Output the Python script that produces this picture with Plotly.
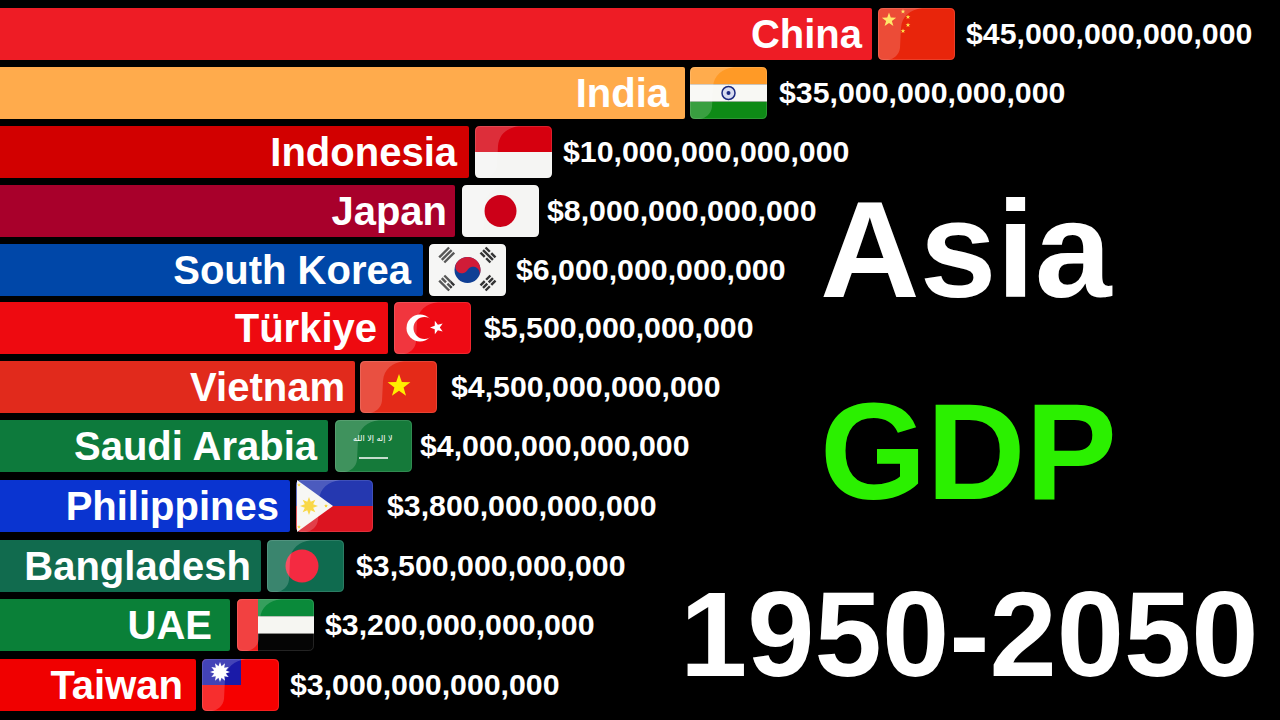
import numpy as np
import plotly.graph_objects as go

countries = ["China", "India", "Indonesia", "Japan", "South Korea", "Türkiye", "Vietnam",
             "Saudi Arabia", "Philippines", "Bangladesh", "UAE", "Taiwan"]
bar_lengths = [872, 685, 469, 455, 423, 388, 355, 328, 290, 261, 230, 196]
gdp_labels = ["$45,000,000,000,000", "$35,000,000,000,000", "$10,000,000,000,000",
              "$8,000,000,000,000", "$6,000,000,000,000", "$5,500,000,000,000",
              "$4,500,000,000,000", "$4,000,000,000,000", "$3,800,000,000,000",
              "$3,500,000,000,000", "$3,200,000,000,000", "$3,000,000,000,000"]
bar_colors = ["#EE1C25", "#FFAB4C", "#D20000", "#A8002B", "#0047A8", "#EE0A10",
              "#E12A1C", "#0D7A3C", "#0A34D0", "#116B4E", "#0A8038", "#F00000"]
bar_centers = [34, 93, 152, 211, 270, 328, 387, 446, 506, 566, 625, 685]
# gaps in the original differ a little from row to row
name_pads = [10, 16, 12, 8, 12, 11, 10, 11, 11, 10, 18, 13]
flag_gaps = [6, 5, 6, 7, 6, 6, 5, 7, 6, 6, 7, 6]
value_gaps = [94, 94, 94, 92, 93, 96, 96, 92, 97, 95, 95, 94]

FLAG_W = 77
FLAG_H = 52
shapes = []
annotations = []


def rrect(x0, y0, x1, y1, fill, corners="tl tr br bl", r=5):
    tl = r if "tl" in corners else 0
    tr = r if "tr" in corners else 0
    br = r if "br" in corners else 0
    bl = r if "bl" in corners else 0
    path = (f"M{x0 + tl},{y0} L{x1 - tr},{y0} Q{x1},{y0} {x1},{y0 + tr} "
            f"L{x1},{y1 - br} Q{x1},{y1} {x1 - br},{y1} "
            f"L{x0 + bl},{y1} Q{x0},{y1} {x0},{y1 - bl} "
            f"L{x0},{y0 + tl} Q{x0},{y0} {x0 + tl},{y0} Z")
    shapes.append(dict(type="path", path=path, fillcolor=fill, line_width=0))


def poly(pts, fill):
    path = "M" + " L".join(f"{px:.2f},{py:.2f}" for px, py in pts) + " Z"
    shapes.append(dict(type="path", path=path, fillcolor=fill, line_width=0))


def circle(cx, cy, r, fill, line=None, lw=0):
    shapes.append(dict(type="circle", x0=cx - r, x1=cx + r, y0=cy - r, y1=cy + r,
                       fillcolor=fill, line=dict(color=line, width=lw) if line else dict(width=0)))


def star(cx, cy, r, fill, n=5, inner=0.4, rot=-90):
    ang = np.radians(rot) + np.arange(2 * n) * np.pi / n
    rad = np.where(np.arange(2 * n) % 2 == 0, r, r * inner)
    poly(list(zip(cx + rad * np.cos(ang), cy + rad * np.sin(ang))), fill)


def seg(x0, y0, x1, y1, color, width):
    shapes.append(dict(type="line", x0=x0, y0=y0, x1=x1, y1=y1, line=dict(color=color, width=width)))


def stripes(x, y, cols):
    n = len(cols)
    for i, c in enumerate(cols):
        corners = "tl tr" if i == 0 else ("br bl" if i == n - 1 else "")
        rrect(x, y + FLAG_H * i / n, x + FLAG_W, y + FLAG_H * (i + 1) / n, c, corners)


def gloss(x, y):
    path = (f"M{x + 5},{y} L{x + 44},{y} C{x + 32},{y + 2} {x + 24},{y + 8} {x + 23},{y + 20} "
            f"L{x + 22},{y + 40} C{x + 21},{y + 47} {x + 16},{y + 51} {x + 10},{y + 52} "
            f"L{x + 5},{y + 52} Q{x},{y + 52} {x},{y + 47} L{x},{y + 5} Q{x},{y} {x + 5},{y} Z")
    shapes.append(dict(type="path", path=path, fillcolor="rgba(255,255,255,0.18)", line_width=0))


def taegeuk(cx, cy, r):
    tilt = np.radians(30)
    t = np.linspace(0, np.pi, 40)
    outer = [(r * np.cos(a + np.pi), r * np.sin(a + np.pi)) for a in t]
    s1 = [(r / 2 + r / 2 * np.cos(a), -r / 2 * np.sin(a)) for a in t]
    s2 = [(-r / 2 + r / 2 * np.cos(a), r / 2 * np.sin(a)) for a in t]
    pts = outer + s1 + s2
    circle(cx, cy, r, "#0F3F94")
    poly([(cx + px * np.cos(tilt) - py * np.sin(tilt), cy + px * np.sin(tilt) + py * np.cos(tilt))
          for px, py in pts], "#D01C38")


def trigram(cx, cy, angle, broken):
    a = np.radians(angle)
    ux, uy = np.cos(a), np.sin(a)  # along the bars
    vx, vy = -uy, ux
    for k, brk in zip((-3.6, 0, 3.6), broken):
        ox, oy = cx + ux * k, cy + uy * k
        if brk:
            seg(ox - vx * 7, oy - vy * 7, ox - vx * 1, oy - vy * 1, "#333333", 2.4)
            seg(ox + vx * 1, oy + vy * 1, ox + vx * 7, oy + vy * 7, "#333333", 2.4)
        else:
            seg(ox - vx * 7, oy - vy * 7, ox + vx * 7, oy + vy * 7, "#333333", 2.4)


def draw_flag(name, x, y):
    W, H = FLAG_W, FLAG_H
    if name == "China":
        rrect(x, y, x + W, y + H, "#E8250B")
        star(x + 11, y + 12, 7.5, "#FFE24A")
        for dx, dy in [(25, 3.5), (30, 9), (30, 17), (25, 23)]:
            star(x + dx, y + dy, 2.5, "#FFE24A")
    elif name == "India":
        stripes(x, y, ["#FF9A26", "#F8F8F4", "#0E8A16"])
        circle(x + W / 2, y + H / 2, 6.5, "#D8DCF0", "#1B2A80", 1.5)
        circle(x + W / 2, y + H / 2, 2, "#1B2A80")
    elif name == "Indonesia":
        stripes(x, y, ["#D6000F", "#F5F5F3"])
    elif name == "Japan":
        rrect(x, y, x + W, y + H, "#F5F5F3")
        circle(x + W / 2, y + H / 2, 16, "#CC0018")
    elif name == "South Korea":
        rrect(x, y, x + W, y + H, "#F5F5F3")
        taegeuk(x + W / 2, y + H / 2, 13)
        trigram(x + 17.7, y + 11, 225, (0, 0, 0))
        trigram(x + 59, y + 11, 315, (1, 0, 1))
        trigram(x + 17.7, y + 39, 135, (0, 1, 0))
        trigram(x + 59, y + 39, 45, (1, 1, 1))
    elif name == "Türkiye":
        rrect(x, y, x + W, y + H, "#EE0A14")
        circle(x + 26, y + 26, 13.5, "#FFFFFF")
        circle(x + 30.5, y + 26, 11, "#EE0A14")
        star(x + 43, y + 25.5, 7, "#FFFFFF", rot=180)
    elif name == "Vietnam":
        rrect(x, y, x + W, y + H, "#E42A18")
        star(x + 39, y + 25, 12, "#FFEE00")
    elif name == "Saudi Arabia":
        rrect(x, y, x + W, y + H, "#157A3A")
        annotations.append(dict(x=x + 38, y=y + 19, text="لا إله إلا الله", showarrow=False,
                                font=dict(family="DejaVu Sans", size=8, color="#FFFFFF")))
        seg(x + 24, y + 38, x + 53, y + 38, "#FFFFFF", 1.5)
    elif name == "Philippines":
        stripes(x, y, ["#2538B0", "#DC1420"])
        poly([(x + 1, y), (x + 37, y + H / 2), (x + 1, y + H)], "#F6F6F2")
        star(x + 13, y + 26, 9, "#F8D020", n=8, inner=0.5)
        for dx, dy in [(3, 5), (3, 47), (30, 26)]:
            star(x + dx, y + dy, 2, "#F8D020")
    elif name == "Bangladesh":
        rrect(x, y, x + W, y + H, "#0F6B4F")
        circle(x + 35, y + 26, 16.5, "#F42A41")
    elif name == "UAE":
        stripes(x, y, ["#0A8A3A", "#F6F6F2", "#050505"])
        rrect(x, y, x + 21, y + H, "#F01818", "tl bl")
    elif name == "Taiwan":
        rrect(x, y, x + W, y + H, "#F60000")
        rrect(x, y, x + 39, y + 26, "#1A1AA8", "tl")
        star(x + 18, y + 13, 10, "#FFFFFF", n=12, inner=0.6)
        circle(x + 18, y + 13, 5.5, "#FFFFFF")
    gloss(x, y)
    rrect(x + 0.5, y + 0.5, x + W - 0.5, y + H - 0.5, "rgba(0,0,0,0)")
    shapes[-1]["line"] = dict(color="rgba(255,255,255,0.12)", width=1)
    shapes[-1].pop("line_width", None)


for name, length, gap, center in zip(countries, bar_lengths, flag_gaps, bar_centers):
    draw_flag(name, length + gap, center - FLAG_H / 2)

for text, x, y, size, color in [("Asia", 966, 249, 138, "#FFFFFF"),
                                ("GDP", 968, 451, 137, "#2BF000"),
                                ("1950-2050", 969, 634, 121, "#FFFFFF")]:
    annotations.append(dict(x=x, y=y, text=text, showarrow=False,
                            font=dict(family="Liberation Sans", size=size, color=color, weight="bold")))

fig = go.Figure()
fig.add_trace(go.Bar(x=bar_lengths, y=bar_centers, orientation="h", width=52,
                     marker=dict(color=bar_colors, line_width=0, cornerradius=2),
                     hoverinfo="skip"))
fig.add_trace(go.Scatter(x=[v - p for v, p in zip(bar_lengths, name_pads)],
                         y=[c + 4 for c in bar_centers], mode="text",
                         text=countries, textposition="middle left", hoverinfo="skip",
                         textfont=dict(family="Liberation Sans", size=40, color="#FFFFFF", weight="bold")))
fig.add_trace(go.Scatter(x=[v + g for v, g in zip(bar_lengths, value_gaps)],
                         y=[c + 2 for c in bar_centers], mode="text",
                         text=gdp_labels, textposition="middle right", hoverinfo="skip",
                         textfont=dict(family="Liberation Sans", size=30.3, color="#FFFFFF", weight="bold")))

fig.update_layout(width=1280, height=720, margin=dict(l=0, r=0, t=0, b=0),
                  paper_bgcolor="#000000", plot_bgcolor="#000000", showlegend=False,
                  shapes=shapes, annotations=annotations,
                  xaxis=dict(range=[0, 1280], visible=False, fixedrange=True),
                  yaxis=dict(range=[720, 0], visible=False, fixedrange=True))
# page has a default body margin, drop it so the figure fills the window
fig.write_html("out.html", config=dict(displayModeBar=False),
               post_script="document.body.style.margin='0';document.documentElement.style.background='#000';")
